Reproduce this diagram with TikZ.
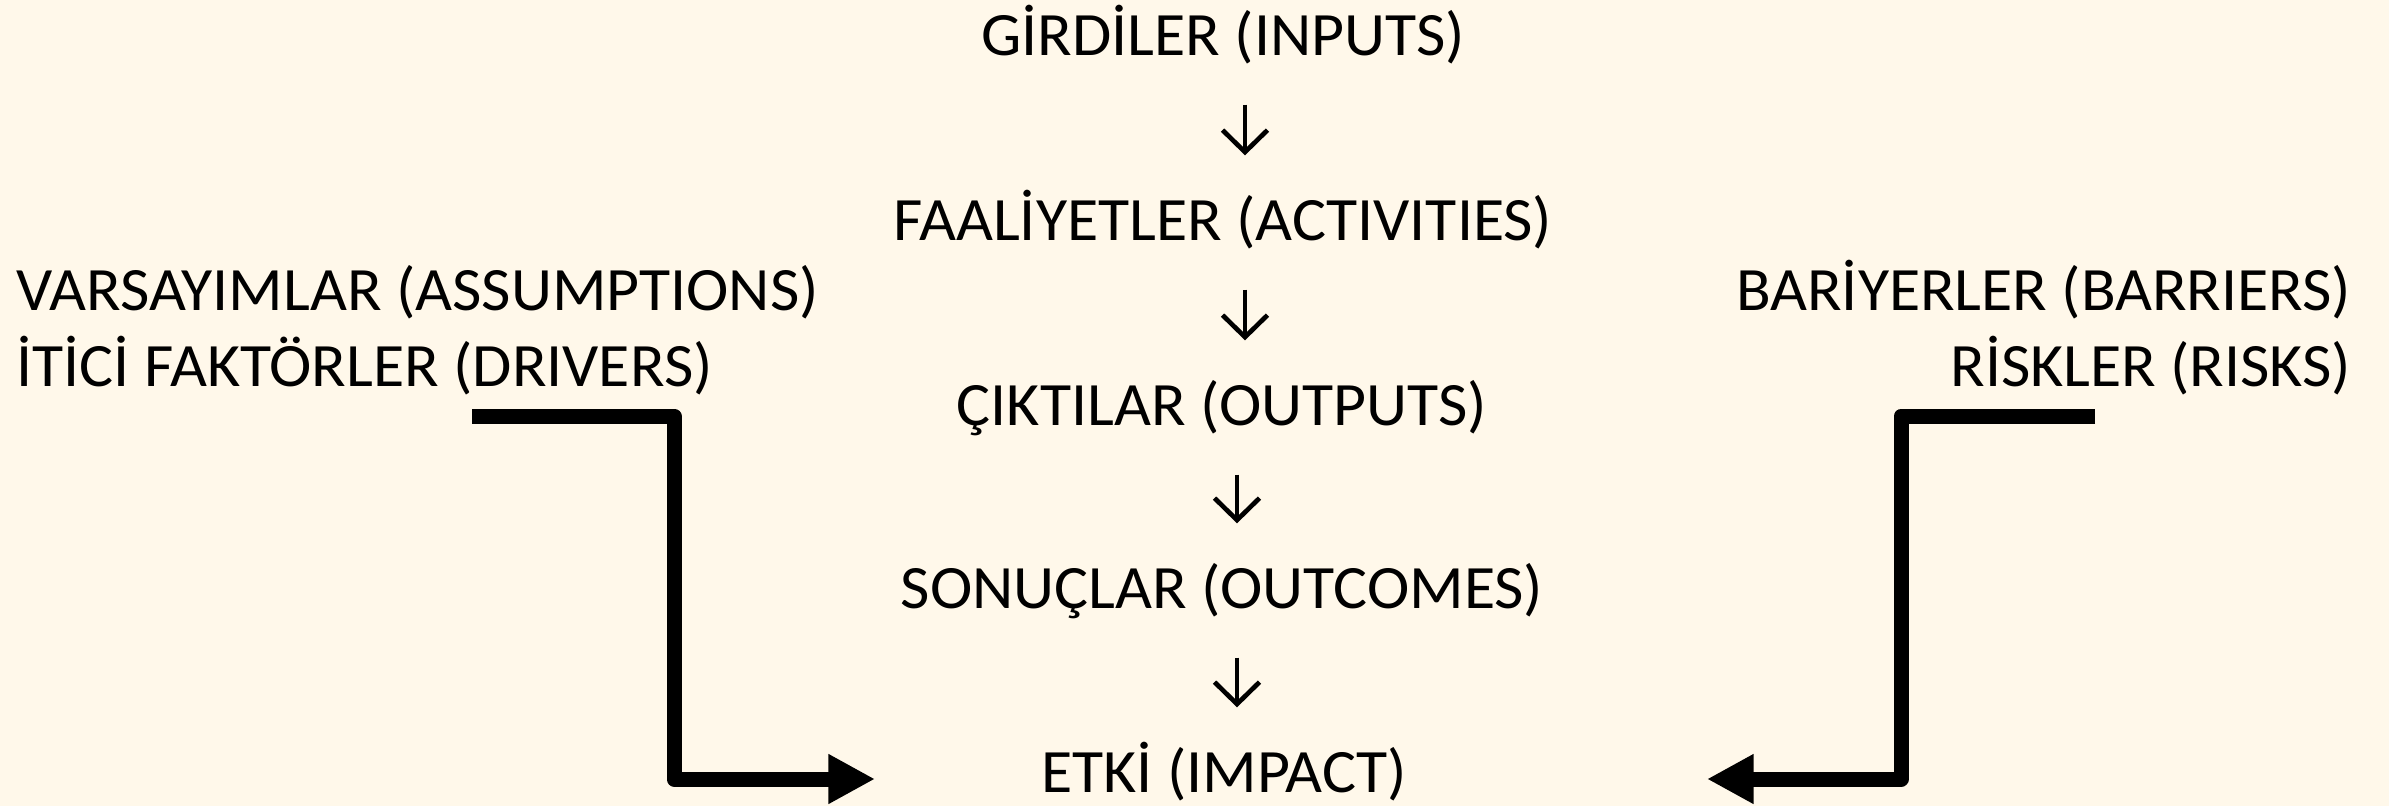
\documentclass[tikz,border=0pt]{standalone}
\usepackage{fontspec}
\setmainfont{Carlito}[FakeStretch=1.035]
\usetikzlibrary{arrows.meta}
\definecolor{bgcream}{RGB}{255,248,234}
\tikzset{
  lbl/.style={inner sep=0pt, text height=11.4pt, text depth=0pt, font=\fontsize{18.5}{22}\selectfont, text=black},
  thinarrow/.style={line width=1.4pt, -{Straight Barb[length=6.6pt,width=13.5pt]}, shorten <=14.7pt, shorten >=13.8pt},
  bigarrow/.style={line width=4.5pt, line join=round, -{Triangle[length=14pt,width=14pt]}}
}
\begin{document}
\begin{tikzpicture}[x=0.3pt,y=-0.3pt]
\fill[bgcream] (0,0) rectangle (2389,806);
\useasboundingbox (0,0) rectangle (2389,806);
% centre column
\node[lbl, anchor=base] (g) at (1223,55)  {GİRDİLER (INPUTS)};
\node[lbl, anchor=base] (f) at (1223,240) {FAALİYETLER (ACTIVITIES)};
\node[lbl, anchor=base] (c) at (1222,425) {ÇIKTILAR (OUTPUTS)};
\node[lbl, anchor=base] (s) at (1222,608) {SONUÇLAR (OUTCOMES)};
\node[lbl, anchor=base] (e) at (1224,792) {ETKİ (IMPACT)};
% side labels
\node[lbl, anchor=base west] (v) at (16,310) {VARSAYIMLAR (ASSUMPTIONS)};
\node[lbl, anchor=base west] (d) at (16,386) {İTİCİ FAKTÖRLER (DRIVERS)};
\node[lbl, anchor=base east] (b) at (2352,310) {BARİYERLER (BARRIERS)};
\node[lbl, anchor=base east] (r) at (2352,386) {RİSKLER (RISKS)};
% thin arrows
\draw[thinarrow] ([xshift=6.6pt]g.south) -- ([xshift=6.6pt]g.south |- f.north);
\draw[thinarrow] ([xshift=6.6pt]f.south) -- ([xshift=6.6pt]f.south |- c.north);
\draw[thinarrow] ([xshift=4.5pt]c.south) -- ([xshift=4.5pt]c.south |- s.north);
\draw[thinarrow] ([xshift=4.5pt]s.south) -- ([xshift=4.5pt]s.south |- e.north);
% elbow arrows
\coordinate (ls) at (472,416);
\coordinate (lc) at (674,779);
\coordinate (lt) at (875,779);
\draw[bigarrow] (ls) -| (lc) -- (lt);
\coordinate (rs) at (2095,416);
\coordinate (rc) at (1901,779);
\coordinate (rt) at (1707,779);
\draw[bigarrow] (rs) -| (rc) -- (rt);
\end{tikzpicture}
\end{document}
